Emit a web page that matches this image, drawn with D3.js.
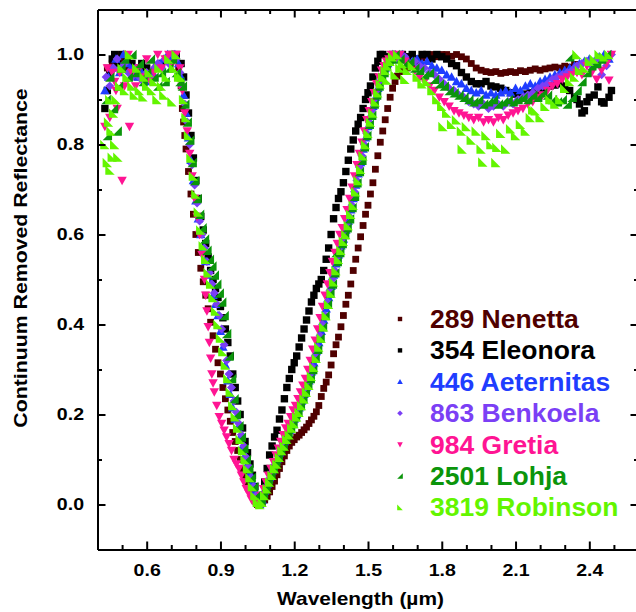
<!DOCTYPE html>
<html>
<head>
<meta charset="utf-8">
<script src="https://cdn.jsdelivr.net/npm/d3@7"></script>
<style>
  body { margin: 0; background: #fff; }
  svg { display: block; }
  text { font-family: "Liberation Sans", Arial, sans-serif; font-weight: bold; }
</style>
</head>
<body>
<div id="chart"></div>
<script>
// 1: DATA  (wavelength in µm, continuum removed reflectance)
const nenetta = [
  [0.44,0.97],[0.46,0.98],[0.48,1.0],[0.50,0.99],[0.52,0.97],[0.54,0.96],[0.56,0.95],[0.58,0.97],[0.60,0.96],[0.62,0.95],[0.64,0.97],[0.66,0.98],[0.68,0.99],[0.70,1.0],[0.72,0.99],[0.73,0.97],
  [0.74,0.93],[0.745,0.88],[0.75,0.85],[0.755,0.82],[0.76,0.79],[0.77,0.74],[0.78,0.69],[0.79,0.645],[0.80,0.60],[0.81,0.56],[0.82,0.525],[0.83,0.495],[0.84,0.465],[0.85,0.435],[0.86,0.405],[0.87,0.375],[0.88,0.345],[0.89,0.315],[0.90,0.29],[0.91,0.26],[0.92,0.235],[0.93,0.21],[0.94,0.185],[0.95,0.16],[0.96,0.14],[0.97,0.12],[0.98,0.10],[0.99,0.08],[1.00,0.065],[1.01,0.05],[1.02,0.035],[1.03,0.02],[1.04,0.008],[1.05,0.0],
  [1.06,0.0],[1.07,0.004],[1.08,0.01],[1.09,0.018],[1.10,0.028],[1.11,0.04],[1.12,0.052],[1.13,0.066],[1.14,0.08],[1.15,0.095],[1.16,0.108],[1.17,0.12],[1.18,0.13],[1.19,0.138],[1.20,0.144],[1.21,0.15],[1.22,0.154],[1.23,0.16],[1.24,0.166],[1.25,0.172],[1.26,0.18],[1.27,0.188],[1.28,0.196],[1.29,0.206],[1.30,0.22],[1.31,0.24],[1.32,0.258],[1.33,0.272],[1.34,0.288],[1.35,0.31],[1.36,0.335],[1.37,0.355],[1.38,0.372],[1.39,0.395],[1.40,0.42],[1.41,0.445],[1.42,0.465],[1.43,0.49],[1.44,0.52],[1.45,0.545],[1.46,0.57],[1.47,0.595],[1.48,0.62],[1.49,0.645],[1.50,0.665],[1.51,0.69],[1.52,0.715],[1.53,0.745],[1.54,0.775],[1.55,0.805],[1.56,0.83],[1.57,0.855],[1.58,0.88],[1.59,0.905],[1.60,0.925],[1.61,0.94],[1.62,0.952],
  [1.64,0.962],[1.66,0.97],[1.68,0.975],[1.70,0.985],[1.72,0.992],[1.74,0.998],[1.76,1.0],[1.78,0.995],[1.80,1.0],[1.82,1.0],[1.84,0.996],[1.86,1.0],[1.88,0.995],[1.90,0.99],[1.92,0.98],[1.94,0.97],[1.96,0.965],[1.98,0.962],[2.00,0.96],[2.02,0.962],[2.04,0.958],[2.06,0.96],[2.08,0.962],[2.10,0.96],[2.12,0.964],[2.14,0.962],[2.16,0.965],[2.18,0.968],[2.20,0.965],[2.22,0.968],[2.24,0.97],[2.26,0.972],[2.28,0.97],[2.30,0.974],[2.32,0.972],[2.34,0.978]
];

const eleonora = [
  [0.43,0.88],[0.44,0.92],[0.45,0.96],[0.46,0.99],[0.47,1.0],[0.48,0.98],[0.50,1.0],[0.52,0.99],[0.54,0.98],[0.56,0.97],[0.58,0.98],[0.60,0.97],[0.62,0.96],[0.64,0.97],[0.66,0.98],[0.68,0.99],[0.70,1.0],[0.72,1.0],[0.74,0.98],
  [0.75,0.95],[0.76,0.91],[0.77,0.87],[0.78,0.82],[0.79,0.77],[0.80,0.72],[0.81,0.68],[0.82,0.64],[0.83,0.61],[0.84,0.58],[0.85,0.55],[0.86,0.52],[0.87,0.50],[0.88,0.48],[0.89,0.46],[0.90,0.44],[0.91,0.415],[0.92,0.39],[0.93,0.36],[0.94,0.33],[0.95,0.29],[0.96,0.26],[0.97,0.23],[0.98,0.20],[0.99,0.17],[1.00,0.14],[1.01,0.115],[1.02,0.09],[1.03,0.065],[1.04,0.04],[1.05,0.02],[1.06,0.005],
  [1.07,0.02],[1.08,0.05],[1.09,0.08],[1.10,0.11],[1.11,0.13],[1.12,0.15],[1.13,0.165],[1.14,0.19],[1.15,0.21],[1.16,0.235],[1.17,0.26],[1.18,0.28],[1.19,0.30],[1.20,0.315],[1.21,0.33],[1.22,0.35],[1.23,0.37],[1.24,0.39],[1.25,0.41],[1.26,0.43],[1.27,0.45],[1.28,0.465],[1.29,0.48],[1.30,0.49],[1.31,0.50],[1.32,0.52],[1.33,0.545],[1.34,0.57],[1.35,0.60],[1.36,0.635],[1.37,0.66],[1.38,0.68],[1.39,0.695],[1.40,0.715],[1.41,0.74],[1.42,0.765],[1.43,0.79],[1.44,0.81],[1.45,0.83],[1.46,0.845],[1.47,0.86],[1.48,0.88],[1.49,0.90],[1.50,0.915],[1.51,0.93],[1.52,0.95],[1.53,0.97],[1.54,0.985],[1.55,1.0],
  [1.56,1.0],[1.58,0.995],[1.60,1.0],[1.62,0.99],[1.64,1.0],[1.66,0.995],[1.68,1.0],[1.70,0.99],[1.72,1.0],[1.74,1.0],[1.76,0.99],[1.78,1.0],[1.80,0.995],[1.82,0.99],[1.84,0.98],[1.86,0.975],[1.88,0.96],[1.90,0.95],[1.92,0.94],[1.94,0.935],[1.96,0.935],[1.98,0.94],[2.00,0.93],[2.02,0.928],[2.04,0.925],[2.06,0.92],[2.08,0.915],[2.10,0.912],[2.12,0.91],[2.14,0.912],[2.16,0.915],[2.18,0.918],[2.20,0.92],[2.22,0.925],[2.24,0.93],[2.26,0.932],[2.28,0.935],[2.30,0.93],[2.32,0.92],[2.34,0.905],[2.35,0.9],[2.36,0.89],[2.37,0.87],[2.38,0.875],[2.39,0.895],[2.40,0.905],[2.42,0.91],[2.435,0.928],[2.45,0.895],[2.46,0.892],[2.48,0.905],[2.49,0.92]
];

const aeternitas = [
  [0.43,0.92],[0.445,0.95],[0.46,0.97],[0.475,0.99],[0.49,0.96],[0.505,1.0],[0.52,0.98],[0.535,0.97],[0.55,0.96],[0.565,0.95],[0.58,0.96],[0.595,0.94],[0.61,0.95],[0.625,0.96],[0.64,0.97],[0.655,0.98],[0.67,0.99],[0.685,1.0],[0.70,0.99],[0.715,1.0],[0.73,0.98],
  [0.74,0.95],[0.75,0.91],[0.76,0.87],[0.77,0.815],[0.78,0.765],[0.79,0.72],[0.80,0.675],[0.81,0.635],[0.82,0.60],[0.83,0.57],[0.84,0.54],[0.85,0.51],[0.86,0.49],[0.87,0.465],[0.88,0.445],[0.89,0.42],[0.90,0.385],[0.91,0.35],[0.92,0.31],[0.93,0.275],[0.94,0.245],[0.95,0.215],[0.96,0.19],[0.97,0.17],[0.98,0.15],[0.99,0.13],[1.00,0.11],[1.01,0.09],[1.02,0.07],[1.03,0.05],[1.04,0.03],[1.05,0.01],[1.06,0.0],
  [1.07,0.01],[1.08,0.03],[1.09,0.045],[1.10,0.06],[1.11,0.075],[1.12,0.09],[1.13,0.10],[1.14,0.115],[1.15,0.13],[1.16,0.14],[1.17,0.155],[1.18,0.165],[1.19,0.18],[1.20,0.19],[1.21,0.20],[1.22,0.215],[1.23,0.23],[1.24,0.245],[1.25,0.26],[1.26,0.275],[1.27,0.295],[1.28,0.315],[1.29,0.34],[1.30,0.36],[1.31,0.385],[1.32,0.41],[1.33,0.435],[1.34,0.46],[1.35,0.485],[1.36,0.51],[1.37,0.535],[1.38,0.555],[1.39,0.575],[1.40,0.59],[1.41,0.61],[1.42,0.63],[1.43,0.655],[1.44,0.68],[1.45,0.71],[1.46,0.735],[1.47,0.76],[1.48,0.79],[1.49,0.815],[1.50,0.84],[1.51,0.865],[1.52,0.885],[1.53,0.905],[1.54,0.925],[1.55,0.945],[1.56,0.96],[1.57,0.97],[1.58,0.98],[1.59,0.99],[1.60,1.0],
  [1.62,0.99],[1.64,1.0],[1.66,0.99],[1.68,0.985],[1.70,0.99],[1.72,0.98],[1.74,0.985],[1.76,0.975],[1.78,0.97],[1.80,0.965],[1.82,0.955],[1.84,0.95],[1.86,0.94],[1.88,0.935],[1.90,0.925],[1.92,0.92],[1.94,0.915],[1.96,0.92],[1.98,0.91],[2.00,0.915],[2.02,0.91],[2.04,0.915],[2.06,0.92],[2.08,0.915],[2.10,0.925],[2.12,0.92],[2.14,0.93],[2.16,0.935],[2.18,0.93],[2.20,0.94],[2.22,0.945],[2.24,0.95],[2.26,0.955],[2.28,0.96],[2.30,0.965],[2.32,0.97],[2.34,0.975],[2.36,0.98],[2.38,0.985],[2.40,0.99],[2.42,0.985],[2.44,0.995],[2.46,1.0],[2.48,0.99]
];

const benkoela = [
  [0.435,0.95],[0.45,0.93],[0.465,0.97],[0.48,0.99],[0.495,0.97],[0.51,0.98],[0.525,0.96],[0.54,0.95],[0.555,0.97],[0.57,0.95],[0.585,0.94],[0.60,0.96],[0.615,0.95],[0.63,0.97],[0.645,0.98],[0.66,0.97],[0.675,0.99],[0.69,0.98],[0.705,1.0],[0.72,0.99],[0.735,0.96],
  [0.745,0.93],[0.755,0.89],[0.765,0.85],[0.775,0.80],[0.785,0.755],[0.795,0.71],[0.805,0.67],[0.815,0.63],[0.825,0.60],[0.835,0.57],[0.845,0.54],[0.855,0.515],[0.865,0.49],[0.875,0.47],[0.885,0.445],[0.895,0.42],[0.905,0.39],[0.915,0.355],[0.925,0.32],[0.935,0.29],[0.945,0.26],[0.955,0.23],[0.965,0.205],[0.975,0.18],[0.985,0.155],[0.995,0.13],[1.005,0.105],[1.015,0.085],[1.025,0.06],[1.035,0.04],[1.045,0.02],[1.055,0.005],
  [1.065,0.01],[1.075,0.025],[1.085,0.04],[1.095,0.055],[1.105,0.07],[1.115,0.085],[1.125,0.095],[1.135,0.11],[1.145,0.12],[1.155,0.135],[1.165,0.15],[1.175,0.16],[1.185,0.175],[1.195,0.185],[1.205,0.195],[1.215,0.21],[1.225,0.225],[1.235,0.24],[1.245,0.25],[1.255,0.27],[1.265,0.285],[1.275,0.305],[1.285,0.33],[1.295,0.35],[1.305,0.375],[1.315,0.40],[1.325,0.42],[1.335,0.45],[1.345,0.475],[1.355,0.50],[1.365,0.52],[1.375,0.545],[1.385,0.565],[1.395,0.585],[1.405,0.60],[1.415,0.62],[1.425,0.64],[1.435,0.665],[1.445,0.695],[1.455,0.72],[1.465,0.75],[1.475,0.775],[1.485,0.80],[1.495,0.825],[1.505,0.85],[1.515,0.875],[1.525,0.895],[1.535,0.915],[1.545,0.935],[1.555,0.95],[1.565,0.965],[1.575,0.975],[1.585,0.985],[1.595,0.99],
  [1.61,1.0],[1.63,0.99],[1.65,0.995],[1.67,0.98],[1.69,0.985],[1.71,0.975],[1.73,0.97],[1.75,0.96],[1.77,0.955],[1.79,0.945],[1.81,0.935],[1.83,0.925],[1.85,0.92],[1.87,0.91],[1.89,0.905],[1.91,0.895],[1.93,0.89],[1.95,0.885],[1.97,0.89],[1.99,0.88],[2.01,0.885],[2.03,0.89],[2.05,0.885],[2.07,0.895],[2.09,0.89],[2.11,0.90],[2.13,0.905],[2.15,0.91],[2.17,0.915],[2.19,0.925],[2.21,0.93],[2.23,0.935],[2.25,0.945],[2.27,0.95],[2.29,0.955],[2.31,0.96],[2.33,0.965],[2.35,0.975],[2.37,0.98],[2.39,0.985],[2.41,0.975],[2.43,0.985],[2.45,0.955],[2.47,0.975],[2.49,1.0]
];

const gretia = [
  [0.43,0.84],[0.44,0.97],[0.45,0.86],[0.46,0.96],[0.47,0.94],[0.475,0.92],[0.48,0.88],[0.49,0.96],[0.50,0.72],[0.51,0.93],[0.525,1.0],[0.53,0.84],[0.54,0.96],[0.555,0.93],[0.57,0.97],[0.585,0.95],[0.60,0.99],[0.615,0.94],[0.63,0.96],[0.645,1.0],[0.66,0.97],[0.675,0.99],[0.69,1.0],[0.705,0.98],[0.72,1.0],[0.735,0.97],
  [0.745,0.92],[0.755,0.87],[0.765,0.83],[0.775,0.78],[0.785,0.73],[0.795,0.68],[0.805,0.64],[0.815,0.60],[0.825,0.555],[0.835,0.50],[0.84,0.465],[0.845,0.43],[0.85,0.395],[0.855,0.36],[0.86,0.325],[0.865,0.29],[0.87,0.27],[0.875,0.25],[0.885,0.22],[0.895,0.195],[0.905,0.18],[0.915,0.165],[0.925,0.15],[0.935,0.135],[0.945,0.12],[0.955,0.10],[0.965,0.09],[0.975,0.08],[0.985,0.065],[0.995,0.05],[1.005,0.035],[1.015,0.025],[1.025,0.012],[1.035,0.005],[1.045,0.0],
  [1.055,0.005],[1.065,0.02],[1.075,0.035],[1.085,0.05],[1.095,0.065],[1.105,0.08],[1.115,0.095],[1.125,0.11],[1.135,0.125],[1.145,0.14],[1.155,0.155],[1.165,0.17],[1.175,0.18],[1.185,0.195],[1.195,0.21],[1.205,0.22],[1.215,0.235],[1.225,0.25],[1.235,0.265],[1.245,0.28],[1.255,0.30],[1.265,0.32],[1.275,0.345],[1.285,0.365],[1.295,0.39],[1.305,0.415],[1.315,0.44],[1.325,0.465],[1.335,0.49],[1.345,0.515],[1.355,0.54],[1.365,0.56],[1.375,0.58],[1.385,0.60],[1.395,0.615],[1.405,0.635],[1.415,0.655],[1.425,0.68],[1.435,0.705],[1.445,0.73],[1.455,0.755],[1.465,0.78],[1.475,0.805],[1.485,0.83],[1.495,0.855],[1.505,0.875],[1.515,0.895],[1.525,0.915],[1.535,0.935],[1.545,0.95],[1.555,0.965],[1.565,0.975],[1.575,0.985],[1.585,0.99],[1.595,1.0],
  [1.61,0.99],[1.63,1.0],[1.65,0.985],[1.67,0.975],[1.69,0.965],[1.71,0.95],[1.73,0.94],[1.75,0.93],[1.77,0.92],[1.79,0.905],[1.81,0.895],[1.83,0.885],[1.85,0.875],[1.87,0.87],[1.89,0.865],[1.91,0.86],[1.93,0.855],[1.95,0.86],[1.97,0.85],[1.99,0.855],[2.01,0.85],[2.03,0.86],[2.05,0.855],[2.07,0.865],[2.09,0.87],[2.11,0.875],[2.13,0.88],[2.15,0.89],[2.17,0.895],[2.19,0.905],[2.21,0.91],[2.23,0.92],[2.25,0.93],[2.27,0.935],[2.29,0.945],[2.31,0.95],[2.33,0.955],[2.35,0.96],[2.37,0.955],[2.39,0.975],[2.41,0.96],[2.43,0.945],[2.45,0.965],[2.47,0.98],[2.48,0.943],[2.49,1.0]
];

const lohja = [
  [0.435,0.90],[0.44,0.82],[0.45,0.95],[0.465,0.88],[0.48,0.83],[0.485,0.93],[0.495,0.97],[0.51,0.99],[0.525,0.95],[0.54,1.0],[0.555,0.96],[0.57,0.98],[0.585,0.94],[0.60,0.96],[0.615,0.99],[0.63,0.95],[0.645,0.93],[0.66,0.96],[0.675,0.94],[0.69,0.97],[0.705,0.99],[0.72,0.96],[0.735,0.94],
  [0.745,0.93],[0.755,0.89],[0.765,0.85],[0.775,0.81],[0.785,0.76],[0.795,0.72],[0.805,0.68],[0.815,0.645],[0.825,0.615],[0.835,0.59],[0.845,0.565],[0.855,0.545],[0.865,0.53],[0.875,0.51],[0.885,0.49],[0.895,0.47],[0.905,0.45],[0.915,0.42],[0.925,0.38],[0.935,0.33],[0.945,0.28],[0.955,0.235],[0.965,0.20],[0.975,0.175],[0.985,0.15],[0.995,0.125],[1.005,0.10],[1.015,0.08],[1.025,0.06],[1.035,0.04],[1.045,0.02],[1.055,0.005],
  [1.065,0.01],[1.075,0.025],[1.085,0.04],[1.095,0.055],[1.105,0.065],[1.115,0.08],[1.125,0.095],[1.135,0.105],[1.145,0.12],[1.155,0.13],[1.165,0.145],[1.175,0.16],[1.185,0.17],[1.195,0.18],[1.205,0.195],[1.215,0.205],[1.225,0.22],[1.235,0.235],[1.245,0.25],[1.255,0.265],[1.265,0.28],[1.275,0.30],[1.285,0.325],[1.295,0.345],[1.305,0.37],[1.315,0.395],[1.325,0.42],[1.335,0.445],[1.345,0.47],[1.355,0.49],[1.365,0.515],[1.37,0.56],[1.375,0.54],[1.385,0.56],[1.395,0.58],[1.405,0.60],[1.415,0.615],[1.425,0.635],[1.435,0.66],[1.445,0.685],[1.455,0.715],[1.465,0.74],[1.475,0.765],[1.485,0.795],[1.495,0.82],[1.505,0.845],[1.515,0.865],[1.525,0.89],[1.535,0.91],[1.545,0.93],[1.555,0.95],[1.565,0.96],[1.575,0.975],[1.585,0.985],[1.595,0.99],
  [1.61,1.0],[1.63,0.99],[1.65,0.98],[1.67,0.985],[1.69,0.97],[1.71,0.965],[1.73,0.955],[1.75,0.96],[1.77,0.945],[1.79,0.935],[1.81,0.93],[1.83,0.92],[1.85,0.915],[1.87,0.91],[1.89,0.905],[1.91,0.90],[1.93,0.895],[1.95,0.90],[1.97,0.89],[1.99,0.895],[2.01,0.90],[2.03,0.89],[2.05,0.895],[2.07,0.90],[2.09,0.895],[2.11,0.90],[2.13,0.905],[2.15,0.90],[2.17,0.91],[2.19,0.905],[2.21,0.915],[2.23,0.91],[2.25,0.90],[2.27,0.895],[2.29,0.90],[2.31,0.89],[2.32,0.995],[2.33,0.905],[2.35,0.92],[2.37,0.94],[2.39,0.96],[2.41,0.975],[2.43,0.98],[2.45,0.99],[2.47,1.0]
];

const robinson = [
  [0.43,0.80],[0.44,0.76],[0.445,0.85],[0.45,0.90],[0.451,0.743],[0.455,0.83],[0.46,0.772],[0.465,0.87],[0.47,0.80],[0.475,0.90],[0.483,0.772],[0.49,0.93],[0.50,0.97],[0.51,0.92],[0.52,0.95],[0.53,1.0],[0.54,0.93],[0.55,0.91],[0.56,0.97],[0.57,0.92],[0.585,0.906],[0.59,0.95],[0.60,0.93],[0.61,0.96],[0.62,0.92],[0.63,0.94],[0.642,0.90],[0.65,0.97],[0.66,0.93],[0.67,0.91],[0.68,0.95],[0.69,0.99],[0.703,0.895],[0.71,0.97],[0.72,1.0],[0.73,0.95],
  [0.74,0.95],[0.75,0.90],[0.76,0.86],[0.77,0.82],[0.78,0.77],[0.79,0.73],[0.80,0.69],[0.81,0.65],[0.82,0.61],[0.83,0.575],[0.84,0.545],[0.85,0.515],[0.86,0.49],[0.87,0.46],[0.88,0.43],[0.89,0.40],[0.90,0.37],[0.91,0.34],[0.92,0.31],[0.93,0.28],[0.94,0.25],[0.95,0.22],[0.96,0.195],[0.97,0.17],[0.98,0.145],[0.99,0.12],[1.00,0.10],[1.01,0.08],[1.02,0.06],[1.03,0.04],[1.04,0.02],[1.05,0.005],[1.06,0.0],
  [1.07,0.005],[1.08,0.02],[1.09,0.035],[1.10,0.05],[1.11,0.065],[1.12,0.08],[1.13,0.09],[1.14,0.105],[1.15,0.12],[1.16,0.13],[1.17,0.145],[1.18,0.155],[1.19,0.17],[1.20,0.18],[1.21,0.195],[1.22,0.205],[1.23,0.22],[1.24,0.235],[1.25,0.25],[1.26,0.265],[1.27,0.285],[1.28,0.305],[1.29,0.325],[1.30,0.35],[1.31,0.37],[1.32,0.395],[1.33,0.42],[1.34,0.445],[1.35,0.47],[1.36,0.495],[1.37,0.52],[1.38,0.545],[1.39,0.565],[1.40,0.585],[1.41,0.60],[1.42,0.62],[1.43,0.645],[1.44,0.665],[1.45,0.695],[1.46,0.72],[1.47,0.745],[1.48,0.775],[1.49,0.80],[1.50,0.825],[1.51,0.85],[1.52,0.87],[1.53,0.895],[1.54,0.915],[1.55,0.935],[1.56,0.95],[1.577,0.943],[1.57,0.965],[1.58,0.975],[1.59,0.985],[1.60,0.995],[1.61,0.955],[1.63,0.97],[1.65,0.945],
  [1.62,1.0],[1.64,0.98],[1.66,0.965],[1.68,0.975],[1.70,0.95],[1.72,0.935],[1.74,0.94],[1.76,0.92],[1.78,0.90],[1.80,0.885],[1.805,0.84],[1.82,0.87],[1.84,0.845],[1.86,0.855],[1.883,0.79],[1.88,0.83],[1.90,0.84],[1.92,0.81],[1.94,0.83],[1.96,0.79],[1.967,0.761],[1.98,0.82],[2.00,0.80],[2.02,0.76],[2.024,0.794],[2.04,0.825],[2.06,0.79],[2.08,0.835],[2.10,0.82],[2.12,0.845],[2.14,0.83],[2.16,0.86],[2.17,0.877],[2.18,0.875],[2.20,0.86],[2.22,0.885],[2.24,0.90],[2.26,0.89],[2.28,0.90],[2.30,0.925],[2.32,0.94],[2.34,0.95],[2.35,1.0],[2.36,0.965],[2.38,0.97],[2.40,0.985],[2.42,0.99],[2.44,1.0],[2.46,0.995],[2.48,1.0]
];

// tick values
const xMajor = [0.6, 0.9, 1.2, 1.5, 1.8, 2.1, 2.4];
const xMinor = [0.5, 0.7, 0.8, 1.0, 1.1, 1.3, 1.4, 1.6, 1.7, 1.9, 2.0, 2.2, 2.3, 2.5];
const yMajor = [0.0, 0.2, 0.4, 0.6, 0.8, 1.0];
const yMinor = [0.1, 0.3, 0.5, 0.7, 0.9];

const series = [
  { name: "289 Nenetta",    data: nenetta,    color: "#500000", shape: "square",  size: 3.4 },
  { name: "354 Eleonora",   data: eleonora,   color: "#000000", shape: "square",  size: 3.7 },
  { name: "446 Aeternitas", data: aeternitas, color: "#1f3dff", shape: "up",      size: 4.7 },
  { name: "863 Benkoela",   data: benkoela,   color: "#7b3ff5", shape: "diamond", size: 4.5 },
  { name: "984 Gretia",     data: gretia,     color: "#ff1493", shape: "down",    size: 4.7 },
  { name: "2501 Lohja",     data: lohja,      color: "#0b950b", shape: "left",    size: 4.7 },
  { name: "3819 Robinson",  data: robinson,   color: "#63f500", shape: "right",   size: 4.7 }
];

// 2: SVG + SCALES
const W = 636, H = 612;
const svg = d3.select("#chart").append("svg").attr("width", W).attr("height", H);

const x = d3.scaleLinear().domain([0.4, 2.6]).range([97.5, 638.5]);
const y = d3.scaleLinear().domain([-0.1, 1.1]).range([549.5, 9.5]);

function markerPath(shape, s) {
  switch (shape) {
    case "square":  return `M${-s},${-s}h${2 * s}v${2 * s}h${-2 * s}Z`;
    case "up":      return `M0,${-s}L${s},${s * 0.8}L${-s},${s * 0.8}Z`;
    case "down":    return `M0,${s}L${s},${-s * 0.8}L${-s},${-s * 0.8}Z`;
    case "diamond": return `M0,${-s}L${s},0L0,${s}L${-s},0Z`;
    case "left":    return `M${s},${-s}L${s},${s}L${-s},${s}Z`;
    case "right":   return `M${-s},${-s}L${-s},${s}L${s},${s}Z`;
  }
}

// stretch text slightly wider, like the original export
function stretch(sel, f) {
  sel.each(function () {
    const L = this.getComputedTextLength();
    d3.select(this).attr("textLength", L * f).attr("lengthAdjust", "spacingAndGlyphs");
  });
}

// 3: POINTS
series.forEach(s => {
  svg.append("g")
    .selectAll("path")
    .data(s.data)
    .enter()
    .append("path")
    .attr("transform", d => `translate(${x(d[0])},${y(d[1])})`)
    .attr("d", markerPath(s.shape, s.size))
    .attr("fill", s.color);
});

// 4: AXES (ticks inward on all four sides)
function styleAxis(g) {
  g.selectAll("path, line").attr("stroke", "#000").attr("stroke-width", 2);
  g.selectAll("text").attr("fill", "#000").style("font-size", "17px").style("font-family", '"Liberation Sans", Arial, sans-serif').style("font-weight", "bold");
}

const gx = svg.append("g").attr("transform", "translate(0,549.5)")
  .call(d3.axisBottom(x).tickValues(xMajor).tickSizeInner(-8).tickSizeOuter(0).tickPadding(14.5).tickFormat(d3.format(".1f")))
  .call(styleAxis);
svg.append("g").attr("transform", "translate(0,549.5)")
  .call(d3.axisBottom(x).tickValues(xMinor).tickSizeInner(-4.5).tickSizeOuter(0).tickFormat(""))
  .call(styleAxis);
svg.append("g").attr("transform", "translate(0,9.5)")
  .call(d3.axisTop(x).tickValues(xMajor).tickSizeInner(-8).tickSizeOuter(0).tickFormat(""))
  .call(styleAxis);
svg.append("g").attr("transform", "translate(0,9.5)")
  .call(d3.axisTop(x).tickValues(xMinor).tickSizeInner(-4.5).tickSizeOuter(0).tickFormat(""))
  .call(styleAxis);

const gy = svg.append("g").attr("transform", "translate(97.5,0)")
  .call(d3.axisLeft(y).tickValues(yMajor).tickSizeInner(-8).tickSizeOuter(0).tickPadding(13.5).tickFormat(d3.format(".1f")))
  .call(styleAxis);
svg.append("g").attr("transform", "translate(97.5,0)")
  .call(d3.axisLeft(y).tickValues(yMinor).tickSizeInner(-4.5).tickSizeOuter(0).tickFormat(""))
  .call(styleAxis);
svg.append("g").attr("transform", "translate(638.5,0)")
  .call(d3.axisRight(y).tickValues(yMajor).tickSizeInner(-8).tickSizeOuter(0).tickFormat(""))
  .call(styleAxis);
svg.append("g").attr("transform", "translate(638.5,0)")
  .call(d3.axisRight(y).tickValues(yMinor).tickSizeInner(-4.5).tickSizeOuter(0).tickFormat(""))
  .call(styleAxis);

stretch(gx.selectAll("text"), 1.15);
stretch(gy.selectAll("text"), 1.15);

// 5: AXIS TITLES
const xTitle = svg.append("text")
  .attr("x", 360.5).attr("y", 605)
  .attr("text-anchor", "middle")
  .style("font-size", "19px")
  .text("Wavelength (µm)");
stretch(xTitle, 1.1);

const yTitle = svg.append("text")
  .attr("transform", "translate(27,258) rotate(-90)")
  .attr("text-anchor", "middle")
  .style("font-size", "19px")
  .text("Continuum Removed Reflectance");
stretch(yTitle, 1.12);

// 6: LEGEND
const legend = svg.selectAll(".legend")
  .data(series)
  .enter()
  .append("g")
  .attr("class", "legend")
  .attr("transform", (d, i) => `translate(400, ${319 + i * 31.4})`);

legend.append("path")
  .attr("d", d => markerPath(d.shape, d.shape === "square" ? 2.2 : 2.8))
  .attr("fill", d => d.color);

const legendText = legend.append("text")
  .attr("x", 30)
  .attr("y", 9)
  .style("font-size", "25px")
  .attr("fill", d => d.color)
  .text(d => d.name);
stretch(legendText, 1.06);
</script>
</body>
</html>
